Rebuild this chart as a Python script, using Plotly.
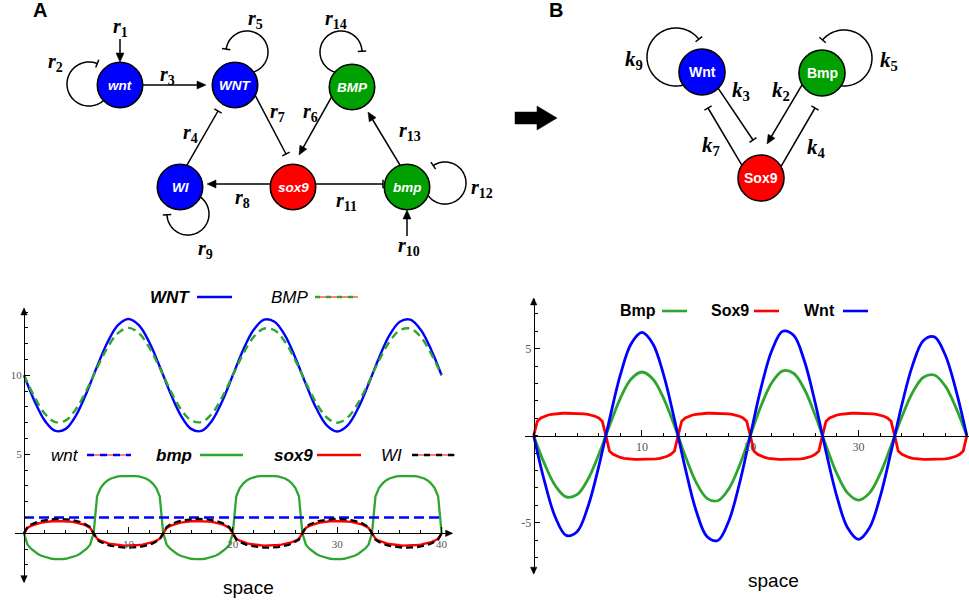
import math
import plotly.graph_objects as go

W, H = 969, 603

# ------------------------------------------------------------------
# DATA
# ------------------------------------------------------------------
X_INT = list(range(41))                      # sample positions, step 1
X_FINE = [round(i / 3, 4) for i in range(121)]  # sample positions, step 1/3

# Panel A plot: protein levels (integer grid)
WNT_PROT = [10.0, 8.38, 7.12, 6.48, 6.61, 7.48, 8.90, 10.56, 12.09, 13.17, 13.56,
            13.17, 12.09, 10.56, 8.90, 7.48, 6.61, 6.48, 7.12, 8.38, 10.0,
            11.62, 12.88, 13.52, 13.39, 12.52, 11.10, 9.44, 7.91, 6.83, 6.44,
            6.83, 7.91, 9.44, 11.10, 12.52, 13.39, 13.52, 12.88, 11.62, 10.0]
BMP_PROT = [10.0, 8.64, 7.57, 7.04, 7.15, 7.88, 9.07, 10.47, 11.76, 12.67, 13.0,
            12.67, 11.76, 10.47, 9.07, 7.88, 7.15, 7.04, 7.57, 8.64, 10.0,
            11.36, 12.43, 12.96, 12.85, 12.12, 10.93, 9.53, 8.24, 7.33, 7.0,
            7.33, 8.24, 9.53, 10.93, 12.12, 12.85, 12.96, 12.43, 11.36, 10.0]

# Panel A plot: mRNA levels
WNT_MRNA_X = [0, 40]
WNT_MRNA = [1.0, 1.0]

BMP_MRNA = [0.0,
    -0.72, -0.98, -1.17, -1.31, -1.42, -1.50, -1.56, -1.61, -1.63, -1.64, -1.63, -1.61, -1.56, -1.50, -1.42, -1.31, -1.17, -0.98, -0.72, 0.0,
    2.35, 2.86, 3.15, 3.35, 3.47, 3.55, 3.60, 3.62, 3.63, 3.63, 3.63, 3.62, 3.60, 3.55, 3.47, 3.35, 3.15, 2.86, 2.35, 0.0,
    -0.72, -0.98, -1.17, -1.31, -1.42, -1.50, -1.56, -1.61, -1.63, -1.64, -1.63, -1.61, -1.56, -1.50, -1.42, -1.31, -1.17, -0.98, -0.72, 0.0,
    2.35, 2.86, 3.15, 3.35, 3.47, 3.55, 3.60, 3.62, 3.63, 3.63, 3.63, 3.62, 3.60, 3.55, 3.47, 3.35, 3.15, 2.86, 2.35, 0.0,
    -0.72, -0.98, -1.17, -1.31, -1.42, -1.50, -1.56, -1.61, -1.63, -1.64, -1.63, -1.61, -1.56, -1.50, -1.42, -1.31, -1.17, -0.98, -0.72, 0.0,
    2.35, 2.86, 3.15, 3.35, 3.47, 3.55, 3.60, 3.62, 3.63, 3.63, 3.63, 3.62, 3.60, 3.55, 3.47, 3.35, 3.15, 2.86, 2.35, 0.0]

SOX9_MRNA = [0.0,
    0.34, 0.47, 0.56, 0.62, 0.68, 0.72, 0.74, 0.76, 0.78, 0.78, 0.78, 0.76, 0.74, 0.72, 0.68, 0.62, 0.56, 0.47, 0.34, 0.0,
    -0.34, -0.47, -0.56, -0.62, -0.68, -0.72, -0.74, -0.76, -0.78, -0.78, -0.78, -0.76, -0.74, -0.72, -0.68, -0.62, -0.56, -0.47, -0.34, 0.0,
    0.34, 0.47, 0.56, 0.62, 0.68, 0.72, 0.74, 0.76, 0.78, 0.78, 0.78, 0.76, 0.74, 0.72, 0.68, 0.62, 0.56, 0.47, 0.34, 0.0,
    -0.34, -0.47, -0.56, -0.62, -0.68, -0.72, -0.74, -0.76, -0.78, -0.78, -0.78, -0.76, -0.74, -0.72, -0.68, -0.62, -0.56, -0.47, -0.34, 0.0,
    0.34, 0.47, 0.56, 0.62, 0.68, 0.72, 0.74, 0.76, 0.78, 0.78, 0.78, 0.76, 0.74, 0.72, 0.68, 0.62, 0.56, 0.47, 0.34, 0.0,
    -0.34, -0.47, -0.56, -0.62, -0.68, -0.72, -0.74, -0.76, -0.78, -0.78, -0.78, -0.76, -0.74, -0.72, -0.68, -0.62, -0.56, -0.47, -0.34, 0.0]

WI_MRNA = [0.0,
    0.40, 0.55, 0.65, 0.73, 0.79, 0.83, 0.87, 0.89, 0.91, 0.91, 0.91, 0.89, 0.87, 0.83, 0.79, 0.73, 0.65, 0.55, 0.40, 0.0,
    -0.40, -0.55, -0.65, -0.73, -0.79, -0.83, -0.87, -0.89, -0.91, -0.91, -0.91, -0.89, -0.87, -0.83, -0.79, -0.73, -0.65, -0.55, -0.40, 0.0,
    0.40, 0.55, 0.65, 0.73, 0.79, 0.83, 0.87, 0.89, 0.91, 0.91, 0.91, 0.89, 0.87, 0.83, 0.79, 0.73, 0.65, 0.55, 0.40, 0.0,
    -0.40, -0.55, -0.65, -0.73, -0.79, -0.83, -0.87, -0.89, -0.91, -0.91, -0.91, -0.89, -0.87, -0.83, -0.79, -0.73, -0.65, -0.55, -0.40, 0.0,
    0.40, 0.55, 0.65, 0.73, 0.79, 0.83, 0.87, 0.89, 0.91, 0.91, 0.91, 0.89, 0.87, 0.83, 0.79, 0.73, 0.65, 0.55, 0.40, 0.0,
    -0.40, -0.55, -0.65, -0.73, -0.79, -0.83, -0.87, -0.89, -0.91, -0.91, -0.91, -0.89, -0.87, -0.83, -0.79, -0.73, -0.65, -0.55, -0.40, 0.0]

# Panel B plot (reduced model)
WNT_B = [0.0, -2.63, -4.69, -5.73, -5.52, -4.10, -1.79, 0.93, 3.49, 5.29, 5.94,
         5.29, 3.49, 0.93, -1.88, -4.31, -5.79, -6.02, -4.93, -2.76, 0.0,
         2.76, 4.91, 6.00, 5.77, 4.29, 1.88, -0.93, -3.50, -5.31, -5.96,
         -5.31, -3.50, -0.93, 1.78, 4.07, 5.47, 5.68, 4.65, 2.61, 0.0]
BMP_B = [0.0, -1.62, -2.88, -3.52, -3.39, -2.52, -1.10, 0.57, 2.15, 3.26, 3.66,
         3.26, 2.15, 0.57, -1.17, -2.68, -3.60, -3.74, -3.07, -1.72, 0.0,
         1.72, 3.06, 3.73, 3.59, 2.67, 1.17, -0.58, -2.18, -3.30, -3.70,
         -3.30, -2.18, -0.58, 1.09, 2.50, 3.36, 3.49, 2.86, 1.60, 0.0]
SOX9_B = [0.0,
    0.83, 1.02, 1.12, 1.19, 1.23, 1.26, 1.28, 1.29, 1.29, 1.29, 1.29, 1.29, 1.28, 1.26, 1.23, 1.19, 1.12, 1.02, 0.83, 0.0,
    -0.88, -1.07, -1.18, -1.25, -1.30, -1.33, -1.35, -1.36, -1.36, -1.36, -1.36, -1.36, -1.35, -1.33, -1.30, -1.25, -1.18, -1.07, -0.88, 0.0,
    0.83, 1.02, 1.12, 1.19, 1.23, 1.26, 1.28, 1.29, 1.29, 1.29, 1.29, 1.29, 1.28, 1.26, 1.23, 1.19, 1.12, 1.02, 0.83, 0.0,
    -0.88, -1.07, -1.18, -1.25, -1.30, -1.33, -1.35, -1.36, -1.36, -1.36, -1.36, -1.36, -1.35, -1.33, -1.30, -1.25, -1.18, -1.07, -0.88, 0.0,
    0.83, 1.02, 1.12, 1.19, 1.23, 1.26, 1.28, 1.29, 1.29, 1.29, 1.29, 1.29, 1.28, 1.26, 1.23, 1.19, 1.12, 1.02, 0.83, 0.0,
    -0.88, -1.07, -1.18, -1.25, -1.30, -1.33, -1.35, -1.36, -1.36, -1.36, -1.36, -1.36, -1.35, -1.33, -1.30, -1.25, -1.18, -1.07, -0.88, 0.0]

X_TICKS = [10, 20, 30, 40]
YA_TICKS = [5, 10]
YB_TICKS = [-5, 5]
YB_TICKTEXT = ['-5', '5']

# ------------------------------------------------------------------
# STYLE
# ------------------------------------------------------------------
BLUE = '#0000FF'
GREEN = '#2EA52E'
RED = '#FF0000'
NODE_BLUE = '#0000FF'
NODE_GREEN = '#00A000'
NODE_RED = '#FF0000'
SANS = 'Liberation Sans'
SERIF = 'Liberation Serif'

fig = go.Figure()


def sc(x, y, ax, color, width, dash=None, spline=True):
    ln = dict(color=color, width=width)
    if dash:
        ln['dash'] = dash
    if spline:
        ln['shape'] = 'spline'
        ln['smoothing'] = 1.0
    fig.add_trace(go.Scatter(x=x, y=y, mode='lines', line=ln,
                             xaxis=ax[0], yaxis=ax[1], hoverinfo='skip',
                             showlegend=False))


A = ('x', 'y')
B = ('x2', 'y2')
# Panel A plot
sc(X_FINE, BMP_MRNA, A, GREEN, 2.3, spline=False)
sc(WNT_MRNA_X, WNT_MRNA, A, BLUE, 2.5, dash='10px,5px', spline=False)
sc(X_FINE, SOX9_MRNA, A, RED, 2.4, spline=False)
sc(X_FINE, WI_MRNA, A, 'black', 2.3, dash='7px,4px', spline=False)
sc(X_INT, WNT_PROT, A, BLUE, 2.4)
sc(X_INT, BMP_PROT, A, GREEN, 2.4, dash='8px,5px')
# Panel B plot
sc(X_FINE, SOX9_B, B, RED, 2.8, spline=False)
sc(X_INT, BMP_B, B, GREEN, 2.8)
sc(X_INT, WNT_B, B, BLUE, 2.8)

# overlay pixel-coordinate axes (for diagrams / decorations)
fig.add_trace(go.Scatter(x=[None], y=[None], xaxis='x3', yaxis='y3',
                         mode='markers', showlegend=False, hoverinfo='skip'))

tickfont = dict(family=SERIF, size=11, color='#555555')
common = dict(showgrid=False, zeroline=False, showline=True, linecolor='black',
              linewidth=1.2, ticks='inside', tickcolor='black', tickwidth=1,
              fixedrange=True)

# Panel A axes geometry (pixels)
ax0, axs = 24.0, 10.44     # x=0 pixel, px per unit
ay0, ays = 533.3, 15.8     # y=0 pixel, px per unit
xa_rng = [-0.86, 40.96]
ya_rng = [-3.06, 14.2]
# Panel B axes geometry
bx0, bxs = 533.7, 10.83
by0, bys = 435.7, 17.4
xb_rng = [-0.8, 40.2]
yb_rng = [-7.9, 7.86]


def xdom(x0, s, rng):
    return [(x0 + rng[0] * s) / W, (x0 + rng[1] * s) / W]


def ydom(y0, s, rng):
    return [1 - (y0 - rng[0] * s) / H, 1 - (y0 - rng[1] * s) / H]


def minor(d):
    return dict(tickmode='linear', tick0=0, dtick=d, ticklen=3,
                ticks='inside', tickcolor='black')


fig.update_layout(
    width=W, height=H, margin=dict(l=0, r=0, t=0, b=0),
    paper_bgcolor='white', plot_bgcolor='rgba(0,0,0,0)', showlegend=False,
    xaxis=dict(domain=xdom(ax0, axs, xa_rng), range=xa_rng, anchor='free',
               position=1 - ay0 / H, tickmode='array', tickvals=X_TICKS,
               ticklen=6, minor=minor(2), tickfont=tickfont, **common),
    yaxis=dict(domain=ydom(ay0, ays, ya_rng), range=ya_rng, anchor='free',
               position=ax0 / W, tickmode='array', tickvals=YA_TICKS,
               ticklen=5, minor=minor(1), tickfont=tickfont, **common),
    xaxis2=dict(domain=[xdom(bx0, bxs, xb_rng)[0], 1.0], range=xb_rng, anchor='free',
                position=1 - by0 / H, tickmode='array', tickvals=X_TICKS,
                ticklen=6, minor=minor(2),
                tickfont=dict(family=SERIF, size=12, color='#555555'), **common),
    yaxis2=dict(domain=ydom(by0, bys, yb_rng), range=yb_rng, anchor='free',
                position=bx0 / W, tickmode='array', tickvals=YB_TICKS,
                ticktext=YB_TICKTEXT, ticklen=5, minor=minor(1),
                tickfont=dict(family=SERIF, size=12, color='#555555'), **common),
    xaxis3=dict(domain=[0, 1], range=[0, W], visible=False, anchor='y3', fixedrange=True),
    yaxis3=dict(domain=[0, 1], range=[H, 0], visible=False, anchor='x3', fixedrange=True),
)

# ------------------------------------------------------------------
# Decorations in pixel coordinates
# ------------------------------------------------------------------
shapes = []
annots = []


def path(pts, close=False):
    s = 'M ' + ' L '.join(f'{x:.2f},{y:.2f}' for x, y in pts)
    return s + (' Z' if close else '')


def pline(pts, w=1.5, color='black', dash=None):
    ln = dict(color=color, width=w)
    if dash:
        ln['dash'] = dash
    shapes.append(dict(type='path', xref='x3', yref='y3', path=path(pts), line=ln))


def poly(pts, color='black'):
    shapes.append(dict(type='path', xref='x3', yref='y3', path=path(pts, True),
                       fillcolor=color, line=dict(color=color, width=0.5)))


def head(xt, yt, ux, uy, L=9.0, hw=4.0):
    bx, by = xt - ux * L, yt - uy * L
    px, py = -uy, ux
    poly([(xt, yt), (bx + px * hw, by + py * hw), (bx - px * hw, by - py * hw)])


def unit(x0, y0, x1, y1):
    d = math.hypot(x1 - x0, y1 - y0)
    return (x1 - x0) / d, (y1 - y0) / d


def arrow(x0, y0, x1, y1, ext=5):
    ux, uy = unit(x0, y0, x1, y1)
    pline([(x0 - ux * ext, y0 - uy * ext), (x1 - ux * 7, y1 - uy * 7)])
    head(x1, y1, ux, uy)


def tbar(x0, y0, x1, y1, ext=5, half=4.2):
    ux, uy = unit(x0, y0, x1, y1)
    pline([(x0 - ux * ext, y0 - uy * ext), (x1, y1)])
    px, py = -uy, ux
    pline([(x1 + px * half, y1 + py * half), (x1 - px * half, y1 - py * half)])


def loop(cx, cy, r, a0, a1, half=4.2, n=80):
    pts = []
    for i in range(n + 1):
        a = math.radians(a0 + (a1 - a0) * i / n)
        pts.append((cx + r * math.cos(a), cy + r * math.sin(a)))
    pline(pts)
    a = math.radians(a1)
    ex, ey = pts[-1]
    c, s = math.cos(a), math.sin(a)
    pline([(ex - c * half, ey - s * half), (ex + c * half, ey + s * half)])


def node(cx, cy, color, label, r=22.7, size=13.5, italic=True):
    shapes.append(dict(type='circle', xref='x3', yref='y3', x0=cx - r, x1=cx + r,
                       y0=cy - r, y1=cy + r, fillcolor=color,
                       line=dict(color='black', width=1.6)))
    t = f'<b><i>{label}</i></b>' if italic else f'<b>{label}</b>'
    annots.append(dict(xref='x3', yref='y3', x=cx, y=cy, text=t, showarrow=False,
                       font=dict(family=SANS, size=size, color='white'),
                       xanchor='center', yanchor='middle'))


def txt(x, y, s, size, family=SANS, color='black', xanchor='center'):
    annots.append(dict(xref='x3', yref='y3', x=x, y=y, text=s, showarrow=False,
                       font=dict(family=family, size=size, color=color),
                       xanchor=xanchor, yanchor='middle'))


def rlab(x, y, letter, num, size=20):
    txt(x, y + 1, f'<b><i>{letter}</i><sub>{num}</sub></b>', size, family=SERIF)


# ---------------- Network A ----------------
arrow(120, 39, 120, 62, ext=0)
loop(89, 84, 22, 45, 292)
arrow(140, 85, 206, 85)
loop(247, 52, 21, 80, -172)
loop(341, 52, 21, 100, 358)
tbar(255, 95, 286, 154)
tbar(187, 165, 218, 111)
arrow(331, 98, 299, 155)
arrow(400, 165, 368, 112)
arrow(270, 184, 207, 184)
tbar(315, 184, 383, 184)
loop(445, 183, 21, 160, -124)
loop(188, 214, 21, -70, 178)
arrow(407, 236, 407, 210, ext=0)

node(120, 85, NODE_BLUE, 'wnt')
node(235, 85, NODE_BLUE, 'WNT')
node(352, 87, NODE_GREEN, 'BMP')
node(180, 187, NODE_BLUE, 'WI')
node(293, 187, NODE_RED, 'sox9')
node(407, 187, NODE_GREEN, 'bmp')

rlab(120, 26, 'r', 1)
rlab(55, 61, 'r', 2)
rlab(167, 74, 'r', 3)
rlab(190, 132, 'r', 4)
rlab(255, 18, 'r', 5)
rlab(310, 111, 'r', 6)
rlab(277, 111, 'r', 7)
rlab(242, 197, 'r', 8)
rlab(205, 248, 'r', 9)
rlab(409, 245, 'r', 10)
rlab(346, 200, 'r', 11)
rlab(482, 187, 'r', 12)
rlab(410, 130, 'r', 13)
rlab(336, 18, 'r', 14)

txt(40, 10, '<b>A</b>', 20)
txt(556, 10, '<b>B</b>', 20)

# big transition arrow
poly([(515, 112), (537, 112), (537, 106), (557, 118), (537, 130), (537, 124), (515, 124)])

# ---------------- Network B ----------------
loop(676, 57, 29, 65, 322)
loop(844, 58, 28, 115, -140)
tbar(718, 88, 753, 140)
tbar(740, 162, 708, 108)
arrow(802, 85, 767, 144)
tbar(783, 163, 815, 108)

node(702, 72, NODE_BLUE, 'Wnt', r=23, size=14, italic=False)
node(822, 73, NODE_GREEN, 'Bmp', r=23, size=14, italic=False)
node(761, 178, NODE_RED, 'Sox9', r=23, size=14, italic=False)

rlab(634, 59, 'k', 9, size=21)
rlab(889, 60, 'k', 5, size=21)
rlab(741, 90, 'k', 3, size=21)
rlab(781, 90, 'k', 2, size=21)
rlab(711, 145, 'k', 7, size=21)
rlab(816, 147, 'k', 4, size=21)

# ---------------- plot axis arrowheads ----------------
head(ax0 + xa_rng[1] * axs + 1, ay0, 1, 0, L=7, hw=3.2)
head(ax0, ay0 - ya_rng[1] * ays - 1, 0, -1, L=7, hw=3.2)
head(ax0, ay0 - ya_rng[0] * ays + 1, 0, 1, L=7, hw=3.2)
head(bx0, by0 - yb_rng[1] * bys - 1, 0, -1, L=7, hw=3.2)
head(bx0, by0 - yb_rng[0] * bys + 1, 0, 1, L=7, hw=3.2)


# ---------------- legends ----------------
def leg_line(x0, x1, y, color, dash=None, under_red=False, w=2.6):
    if under_red:
        pline([(x0, y), (x1, y)], w=1.0, color=RED)
    pline([(x0, y), (x1, y)], w=w, color=color, dash=dash)


# Panel A legend row 1
txt(192, 297, '<b><i>WNT</i></b>', 17, xanchor='right')
leg_line(197, 232, 297, BLUE)
txt(311, 297, '<i>BMP</i>', 17, xanchor='right')
leg_line(315, 358, 297, GREEN, dash='5px,6px', under_red=True)
# Panel A legend row 2
txt(81, 455, '<i>wnt</i>', 17, xanchor='right')
leg_line(87, 131, 455, BLUE, dash='7px,6px', under_red=True)
txt(194, 455, '<b><i>bmp</i></b>', 17, xanchor='right')
leg_line(200, 243, 455, GREEN)
txt(315, 455, '<b><i>sox9</i></b>', 17, xanchor='right')
leg_line(317, 361, 455, RED)
txt(404, 455, '<i>WI</i>', 17, xanchor='right')
leg_line(412, 455, 455, 'black', dash='6px,6px', under_red=True)

# Panel B legend
txt(658, 310, '<b>Bmp</b>', 16, xanchor='right')
leg_line(662, 687, 311, GREEN)
txt(751, 310, '<b>Sox9</b>', 16, xanchor='right')
leg_line(754, 779, 311, RED)
txt(837, 310, '<b>Wnt</b>', 16, xanchor='right')
leg_line(843, 868, 311, BLUE)

# axis titles
txt(248, 587, 'space', 19)
txt(773, 580, 'space', 19)

fig.update_layout(shapes=shapes, annotations=annots)

fig.write_html('out.html')
